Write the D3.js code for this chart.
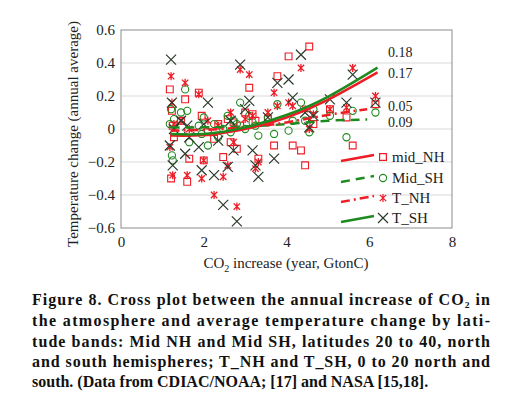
<!DOCTYPE html>
<html>
<head>
<meta charset="utf-8">
<script src="https://cdnjs.cloudflare.com/ajax/libs/d3/7.8.5/d3.min.js"></script>
<style>
  body { margin: 0; background: #fff; }
  svg text { font-family: "Liberation Serif", "Times New Roman", serif; }
</style>
</head>
<body>
<svg id="chart" width="519" height="398"></svg>
<script>
// annual CO2 increase (GtonC), one per year
var co2 = [1.18, 1.21, 1.23, 1.25, 1.28, 1.45, 1.55, 1.6, 1.65, 1.88, 1.95, 2.0, 2.1,
  2.25, 2.35, 2.47, 2.58, 2.65, 2.72, 2.8, 2.88, 3.0, 3.1, 3.18, 3.25, 3.32,
  3.55, 3.7, 3.78, 4.05, 4.15, 4.35, 4.45, 4.55, 4.65, 5.05, 5.45, 5.6, 6.15];

// temperature change per band
var midNH = [0.24, -0.30, 0.11, 0.02, -0.05, 0.05, 0.18, -0.32, -0.18, 0.22, 0.08, -0.19, -0.02,
  -0.06, 0.03, -0.17, 0.06, -0.08, 0.04, -0.12, 0.02, 0.10, 0.25, 0.09, 0.05, -0.18,
  0.06, -0.10, 0.32, 0.44, -0.10, -0.13, -0.22, 0.50, 0.03, 0.12, 0.07, -0.10, 0.15];
var midSH = [0.03, 0.12, -0.16, -0.19, 0.06, 0.10, 0.24, 0.11, -0.08, 0.02, -0.03, 0.07, -0.10,
  0.03, -0.05, 0.0, 0.08, -0.02, 0.05, 0.03, 0.16, 0.0, 0.08, 0.04, 0.02, -0.04,
  0.07, -0.03, 0.15, -0.01, 0.05, 0.16, 0.05, -0.02, 0.12, 0.08, -0.05, 0.11, 0.10];
var tNH = [-0.11, 0.32, 0.16, -0.28, 0.03, 0.05, 0.28, -0.28, 0.0, 0.21, -0.30, -0.19, 0.05,
  -0.40, 0.02, -0.29, -0.22, 0.10, -0.08, -0.47, 0.36, 0.06, 0.33, 0.08, -0.24, -0.20,
  0.10, 0.22, 0.14, 0.16, 0.14, 0.37, 0.12, 0.0, 0.09, 0.12, 0.13, 0.37, 0.20];
var tSH = [-0.10, 0.42, 0.16, -0.22, 0.0, 0.05, -0.15, 0.02, -0.05, -0.11, -0.25, 0.03, 0.16,
  -0.28, -0.07, -0.46, -0.23, 0.05, -0.13, -0.56, 0.39, 0.12, 0.17, -0.13, -0.22, -0.29,
  0.07, -0.18, 0.28, 0.30, 0.19, 0.45, 0.10, 0.01, 0.08, 0.18, 0.16, 0.33, 0.16];

// trendlines
var trendX = [1.2, 2, 3, 4, 5, 6.2];
var trendMidNH = [-0.04, -0.037, 0.0, 0.07, 0.177, 0.343];
var trendTSH = [-0.03, -0.03, 0.01, 0.085, 0.195, 0.372];
var trendX2 = [1.2, 2, 3, 4, 5, 5.95];
var trendMidSH = [0.01, 0.01, 0.015, 0.03, 0.05, 0.057];
var trendTNH = [-0.01, -0.005, 0.01, 0.04, 0.085, 0.12];

var r2Labels = ["0.18", "0.17", "0.05", "0.09"];
var legendNames = ["mid_NH", "Mid_SH", "T_NH", "T_SH"];
var xTicks = [0, 2, 4, 6, 8];
var yTicks = [-0.6, -0.4, -0.2, 0, 0.2, 0.4, 0.6];

var caption = [
  "Figure 8. Cross plot between the annual increase of CO\u2082 in",
  "the atmosphere and average temperature change by lati-",
  "tude bands: Mid NH and Mid SH, latitudes 20 to 40, north",
  "and south hemispheres; T_NH and T_SH, 0 to 20 north and",
  "south. (Data from CDIAC/NOAA; [17] and NASA [15,18]."
];

var RED = "#ee1c25", GREEN = "#1f8a1f", DARK = "#2a3a2a";

var svg = d3.select("#chart");
var x = d3.scaleLinear().domain([0, 8]).range([121, 452]);
var y = d3.scaleLinear().domain([-0.6, 0.6]).range([228, 30]);

// grid
svg.append("g").selectAll("line")
  .data(yTicks.slice(1, -1)).enter().append("line")
  .attr("x1", x(0)).attr("x2", x(8))
  .attr("y1", function(d) { return y(d); }).attr("y2", function(d) { return y(d); })
  .attr("stroke", "#d9d9d9").attr("stroke-width", 1);

svg.append("rect")
  .attr("x", x(0)).attr("y", y(0.6))
  .attr("width", x(8) - x(0)).attr("height", y(-0.6) - y(0.6))
  .attr("fill", "none").attr("stroke", "#8c8c8c").attr("stroke-width", 1);

// axes labels
var yAxis = d3.axisLeft(y).tickValues(yTicks).tickSize(0).tickPadding(6)
  .tickFormat(function(d) { return d === 0 ? "0" : d3.format(".1f")(d); });
var gy = svg.append("g").attr("transform", "translate(" + x(0) + ",0)").call(yAxis);
gy.select(".domain").remove();
gy.selectAll("text").style("font-size", "15px").attr("fill", "#222")
  .style("font-family", "Liberation Serif, serif");

var xAxis = d3.axisBottom(x).tickValues(xTicks).tickSize(0).tickPadding(8)
  .tickFormat(d3.format("d"));
var gx = svg.append("g").attr("transform", "translate(0," + y(-0.6) + ")").call(xAxis);
gx.select(".domain").remove();
gx.selectAll("text").style("font-size", "15px").attr("fill", "#222")
  .style("font-family", "Liberation Serif, serif");

svg.append("text")
  .attr("transform", "translate(78,134) rotate(-90)")
  .attr("text-anchor", "middle").style("font-size", "15px").attr("fill", "#222")
  .text("Temperature change (annual average)");

var xt = svg.append("text").attr("x", 286).attr("y", 268)
  .attr("text-anchor", "middle").style("font-size", "15px").attr("fill", "#222");
xt.append("tspan").text("CO");
xt.append("tspan").attr("dy", 4).style("font-size", "10px").text("2");
xt.append("tspan").attr("dy", -4).text(" increase (year, GtonC)");

// markers
function squarePath(s) { return "M" + (-s) + "," + (-s) + "h" + 2 * s + "v" + 2 * s + "h" + (-2 * s) + "Z"; }
function crossPath(s) { return "M" + (-s) + "," + (-s) + "L" + s + "," + s + "M" + (-s) + "," + s + "L" + s + "," + (-s); }
function starPath(s) { return crossPath(s * 0.8) + "M0," + (-s) + "V" + s; }

var series = [
  {vals: midNH, path: squarePath(3.4), color: RED, w: 1.1},
  {vals: midSH, circle: true, color: GREEN, w: 1.1},
  {vals: tNH, path: starPath(4), color: RED, w: 1.3},
  {vals: tSH, path: crossPath(5), color: DARK, w: 1.2}
];

series.forEach(function(s) {
  var g = svg.append("g");
  if (s.circle) {
    g.selectAll("circle").data(co2).enter().append("circle")
      .attr("cx", function(d) { return x(d); })
      .attr("cy", function(d, i) { return y(s.vals[i]); })
      .attr("r", 3.6).attr("fill", "none")
      .attr("stroke", s.color).attr("stroke-width", s.w);
  } else {
    g.selectAll("path").data(co2).enter().append("path")
      .attr("transform", function(d, i) { return "translate(" + x(d) + "," + y(s.vals[i]) + ")"; })
      .attr("d", s.path).attr("fill", "none")
      .attr("stroke", s.color).attr("stroke-width", s.w);
  }
});

// trend lines
var line = d3.line().curve(d3.curveNatural)
  .x(function(d) { return x(d[0]); }).y(function(d) { return y(d[1]); });

var trends = [
  {xs: trendX2, ys: trendMidSH, color: GREEN, dash: "9,6"},
  {xs: trendX2, ys: trendTNH, color: RED, dash: "9,4,2,4"},
  {xs: trendX, ys: trendMidNH, color: RED, dash: null},
  {xs: trendX, ys: trendTSH, color: GREEN, dash: null}
];
trends.forEach(function(t) {
  svg.append("path")
    .datum(t.xs.map(function(v, i) { return [v, t.ys[i]]; }))
    .attr("d", line).attr("fill", "none")
    .attr("stroke", t.color).attr("stroke-width", 2.5)
    .attr("stroke-dasharray", t.dash);
});

// R^2 labels
var r2Y = [57, 78, 111, 127];
svg.append("g").selectAll("text").data(r2Labels).enter().append("text")
  .attr("x", 388).attr("y", function(d, i) { return r2Y[i]; })
  .style("font-size", "14px").attr("fill", "#222")
  .text(function(d) { return d; });

// legend
var legendStyles = [
  {color: RED, dash: null, mark: squarePath(3.4), mc: RED},
  {color: GREEN, dash: "9,6", circle: true, mc: GREEN},
  {color: RED, dash: "9,4,2,4", mark: starPath(4), mc: RED},
  {color: GREEN, dash: null, mark: crossPath(5), mc: DARK}
];
var legY = [157, 178, 198, 218];
legendNames.forEach(function(name, i) {
  var st = legendStyles[i], ly = legY[i];
  svg.append("line")
    .attr("x1", 341).attr("y1", ly + 4).attr("x2", 374).attr("y2", ly - 2)
    .attr("stroke", st.color).attr("stroke-width", 2.5)
    .attr("stroke-dasharray", st.dash);
  if (st.circle) {
    svg.append("circle").attr("cx", 383).attr("cy", ly).attr("r", 3.6)
      .attr("fill", "none").attr("stroke", st.mc).attr("stroke-width", 1.1);
  } else {
    svg.append("path").attr("transform", "translate(383," + ly + ")")
      .attr("d", st.mark).attr("fill", "none").attr("stroke", st.mc).attr("stroke-width", 1.2);
  }
  svg.append("text").attr("x", 392).attr("y", ly + 5)
    .style("font-size", "15px").attr("fill", "#222").text(name);
});

// caption
var capY = [305, 326, 347, 367, 387];
caption.forEach(function(t, i) {
  var tx = svg.append("text").attr("x", 32).attr("y", capY[i])
    .style("font-size", "16px").style("font-weight", "bold").attr("fill", "#111")
    .text(t);
  if (i < caption.length - 1) {
    tx.attr("textLength", 458).attr("lengthAdjust", "spacing");
  }
});
</script>
</body>
</html>
